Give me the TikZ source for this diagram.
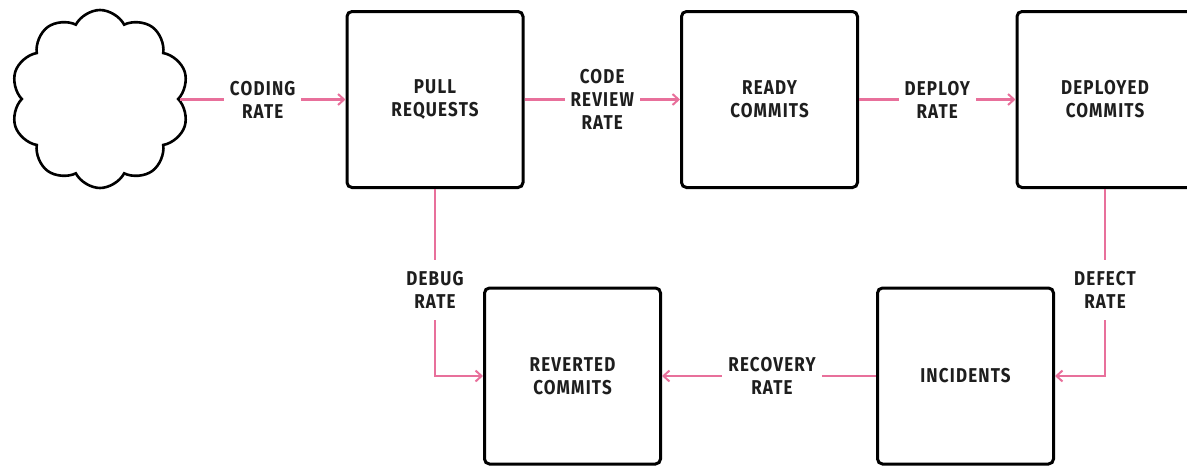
\documentclass[tikz,border=0pt]{standalone}
\usepackage{fontspec}
\newfontfamily\flowfont{Fira Sans}[FakeStretch=0.85,LetterSpace=6]
\usetikzlibrary{arrows.meta,shapes.symbols}
\definecolor{flowpink}{RGB}{232,112,155}
\definecolor{inkgray}{RGB}{30,30,30}
\tikzset{
  stock/.style={draw=black,line width=3pt,rounded corners=5pt,fill=white,
    minimum width=176pt,minimum height=176pt,inner sep=0pt,align=center,
    text=inkgray,font=\flowfont\bfseries\fontsize{20}{23}\selectfont},
  source/.style={cloud,draw=black,line width=2.6pt,cloud puffs=10,
    cloud puff arc=125,aspect=1,minimum width=178pt,minimum height=178pt,inner sep=0pt},
  flow/.style={draw=flowpink,line width=2.3pt,-{Straight Barb[length=6pt,width=11pt,line width=2pt]}},
  rate/.style={fill=white,inner xsep=6pt,inner ysep=11pt,align=center,text=inkgray,
    font=\flowfont\bfseries\fontsize{20}{23}\selectfont}
}
\begin{document}
\begin{tikzpicture}[x=1pt,y=-1pt]
\useasboundingbox (0,0) rectangle (1187,466);
\clip (0,0) rectangle (1187,466);

% stocks
\node[source] (src) at (100,99) {};
\node[stock] (pr)  at (435,99.5)  {PULL\\REQUESTS};
\node[stock] (rc)  at (769.5,99.5) {READY\\COMMITS};
\node[stock] (dc)  at (1105,99.5) {DEPLOYED\\COMMITS};
\node[stock] (rv)  at (572.5,376) {REVERTED\\COMMITS};
\node[stock] (inc) at (965.5,376) {INCIDENTS};

% flows
\draw[flow] (src.east |- pr.west) -- node[rate]{CODING\\RATE} (pr.west);
\draw[flow] (pr.east) -- node[rate]{CODE\\REVIEW\\RATE} (rc.west);
\draw[flow] (rc.east) -- node[rate]{DEPLOY\\RATE} (dc.west);
\draw[flow] (dc.south) |- node[rate,pos=0.27]{DEFECT\\RATE} (inc.east);
\draw[flow] (pr.south) |- node[rate,pos=0.27]{DEBUG\\RATE} (rv.west);
\draw[flow] (inc.west) -- node[rate,xshift=3pt]{RECOVERY\\RATE} (rv.east);
\end{tikzpicture}
\end{document}
